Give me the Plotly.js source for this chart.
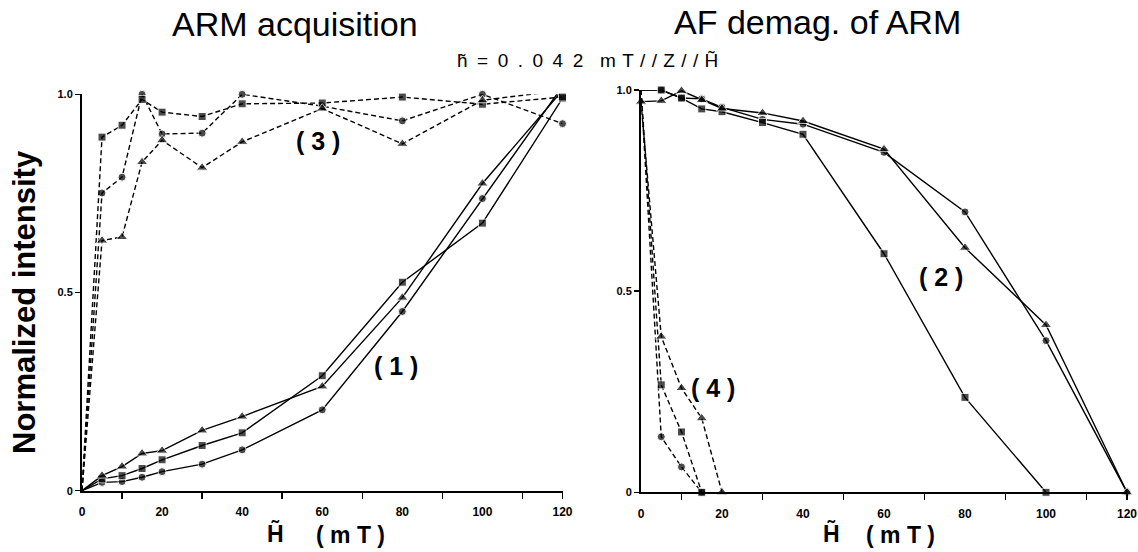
<!DOCTYPE html>
<html>
<head>
<meta charset="utf-8">
<script src="https://cdn.plot.ly/plotly-3.0.1.min.js"></script>
<style>html,body{margin:0;padding:0;background:#fff;}#chart{width:1138px;height:552px;}</style>
</head>
<body>
<div id="chart"></div>
<script>
// ---- Data ----
// Left panel: ARM acquisition, field H (mT)
const armX = [0, 5, 10, 15, 20, 30, 40, 60, 80, 100, 120];
// curve (1): solid
const arm1Circle   = [0, 0.021, 0.023, 0.034, 0.048, 0.067, 0.103, 0.204, 0.452, 0.737, 1.02];
const arm1Square   = [0, 0.030, 0.038, 0.056, 0.078, 0.114, 0.146, 0.290, 0.526, 0.675, 0.99];
const arm1Triangle = [0, 0.038, 0.061, 0.094, 0.101, 0.152, 0.187, 0.263, 0.487, 0.775, 1.01];
// curve (3): dashed
const arm3Circle   = [0, 0.751, 0.791, 1.000, 0.900, 0.902, 1.000, 0.970, 0.933, 1.000, 0.926];
const arm3Square   = [0, 0.892, 0.922, 0.987, 0.955, 0.944, 0.976, 0.978, 0.993, 0.975, 0.993];
const arm3Triangle = [0, 0.631, 0.640, 0.829, 0.884, 0.815, 0.880, 0.964, 0.875, 0.985, 1.010];

// Right panel: AF demagnetization of ARM
const afX        = [0, 5, 10, 15, 20, 30, 40, 60, 80, 100, 120];
const afXSquare  = [0, 5, 10, 15, 20, 30, 40, 60, 80, 100];
// curve (2): solid
const af2Circle   = [1.000, 1.000, 0.980, 0.978, 0.957, 0.927, 0.915, 0.845, 0.697, 0.377, 0];
const af2Square   = [1.000, 1.000, 0.980, 0.953, 0.946, 0.919, 0.890, 0.593, 0.236, 0];
const af2Triangle = [0.971, 0.973, 0.998, 0.975, 0.954, 0.943, 0.923, 0.853, 0.608, 0.416, 0];
// curve (4): dashed
const af4X         = [0, 5, 10, 15];
const af4XTriangle = [0, 5, 10, 15, 20];
const af4Circle    = [1.000, 0.138, 0.063, 0];
const af4Square    = [1.000, 0.267, 0.150, 0];
const af4Triangle  = [0.971, 0.387, 0.259, 0.184, 0];

const xTickVals = [0, 20, 40, 60, 80, 100, 120];
const xTickText = ['0', '20', '40', '60', '80', '100', '120'];
const yTickVals = [0, 0.5, 1.0];
const yTickText = ['0', '0.5', '1.0'];

// ---- Styling helpers ----
const SYM = {circle: {symbol: 'circle', size: 8}, square: {symbol: 'square', size: 8}, triangle: {symbol: 'triangle-up', size: 10}};
function series(x, y, kind, dashed, axis, hideFirstMarker) {
  const s = SYM[kind];
  return {
    x: x, y: y, type: 'scatter', mode: 'lines+markers',
    xaxis: axis === 2 ? 'x2' : 'x', yaxis: axis === 2 ? 'y2' : 'y',
    line: {color: '#000', width: 1.4, dash: dashed ? '5px,3px' : 'solid'},
    marker: {color: '#000', symbol: s.symbol,
             size: x.map((v, i) => (hideFirstMarker && i === 0) ? 0 : s.size)},
    cliponaxis: false, hoverinfo: 'skip', showlegend: false
  };
}

const traces = [
  series(armX, arm1Circle, 'circle', false, 1, true),
  series(armX, arm1Square, 'square', false, 1, true),
  series(armX, arm1Triangle, 'triangle', false, 1, true),
  series(armX, arm3Circle, 'circle', true, 1, true),
  series(armX, arm3Square, 'square', true, 1, true),
  series(armX, arm3Triangle, 'triangle', true, 1, true),
  series(afX, af2Circle, 'circle', false, 2, true),
  series(afXSquare, af2Square, 'square', false, 2, true),
  series(afX, af2Triangle, 'triangle', false, 2, false),
  series(af4X, af4Circle, 'circle', true, 2, true),
  series(af4X, af4Square, 'square', true, 2, true),
  series(af4XTriangle, af4Triangle, 'triangle', true, 2, true)
];

const W = 1138, H = 552;
const px = v => v / W;          // pixel -> paper x
const py = v => 1 - v / H;      // pixel -> paper y

const tickFont = {family: 'Liberation Sans, Arial, sans-serif', size: 12, color: '#000', weight: 'bold'};
function xAxis(domain) {
  return {
    domain: domain, range: [0, 120], showgrid: false, zeroline: false,
    showline: true, linecolor: '#000', linewidth: 2,
    tickmode: 'array', tickvals: xTickVals, ticktext: xTickText,
    ticks: '', ticklabelstandoff: 9, tickfont: tickFont,
    minor: {tickmode: 'array', tickvals: [10, 30, 50, 70, 90, 110, 120], ticks: 'outside', ticklen: 6, tickwidth: 1.5, tickcolor: '#000'}
  };
}
function yAxis(domain, anchor) {
  return {
    domain: domain, range: [0, 1], anchor: anchor, showgrid: false, zeroline: false,
    showline: true, linecolor: '#000', linewidth: 2,
    tickmode: 'array', tickvals: yTickVals, ticktext: yTickText,
    ticks: 'outside', ticklen: 5, tickwidth: 1.5, tickcolor: '#000',
    tickfont: Object.assign({}, tickFont, {size: 11})
  };
}

const titleFont = {family: 'Liberation Sans, Arial, sans-serif', size: 34, color: '#000'};
const noteFont = {family: 'Liberation Sans, Arial, sans-serif', size: 19, color: '#000'};
const boldFont = (s) => ({family: 'Liberation Sans, Arial, sans-serif', size: s, color: '#000', weight: 'bold'});
const ann = (text, x, y, font, extra) => Object.assign({
  text: text, x: px(x), y: py(y), xref: 'paper', yref: 'paper',
  xanchor: 'center', yanchor: 'middle', showarrow: false, font: font
}, extra || {});

const E = '\u2002', T = '\u2004';
const layout = {
  width: W, height: H, margin: {l: 0, r: 0, t: 0, b: 0},
  paper_bgcolor: '#fff', plot_bgcolor: 'rgba(0,0,0,0)', showlegend: false,
  xaxis: xAxis([px(82), px(562.5)]),
  yaxis: yAxis([1 - 490.7 / H, 1 - 94.3 / H], 'x'),
  xaxis2: Object.assign(xAxis([px(641), px(1127)]), {anchor: 'y2'}),
  yaxis2: yAxis([1 - 492.3 / H, 1 - 90 / H], 'x2'),
  annotations: [
    ann('ARM acquisition', 295, 24, titleFont),
    ann('AF demag. of ARM', 817, 22, titleFont),
    ann(['h\u0303', '=', '0', '.', '0', '4', '2'].join(E), 455, 60, noteFont, {xanchor: 'left'}),
    ann(['m', 'T', '/', '/', 'Z', '/', '/', 'H\u0303'].join(T), 598, 60, noteFont, {xanchor: 'left'}),
    ann('Normalized intensity', 24, 302, boldFont(31), {textangle: -90}),
    ann('H\u0303', 275, 533, boldFont(23)),
    ann('( m T )', 350, 535, boldFont(23)),
    ann('H\u0303', 831, 533, boldFont(23)),
    ann('( m T )', 900, 535, boldFont(23)),
    ann('( 3 )', 318, 141, boldFont(25)),
    ann('( 1 )', 396, 366, boldFont(25)),
    ann('( 2 )', 941, 277, boldFont(25)),
    ann('( 4 )', 713, 388, boldFont(25))
  ]
};

Plotly.newPlot('chart', traces, layout, {staticPlot: true, displayModeBar: false});
</script>
</body>
</html>
